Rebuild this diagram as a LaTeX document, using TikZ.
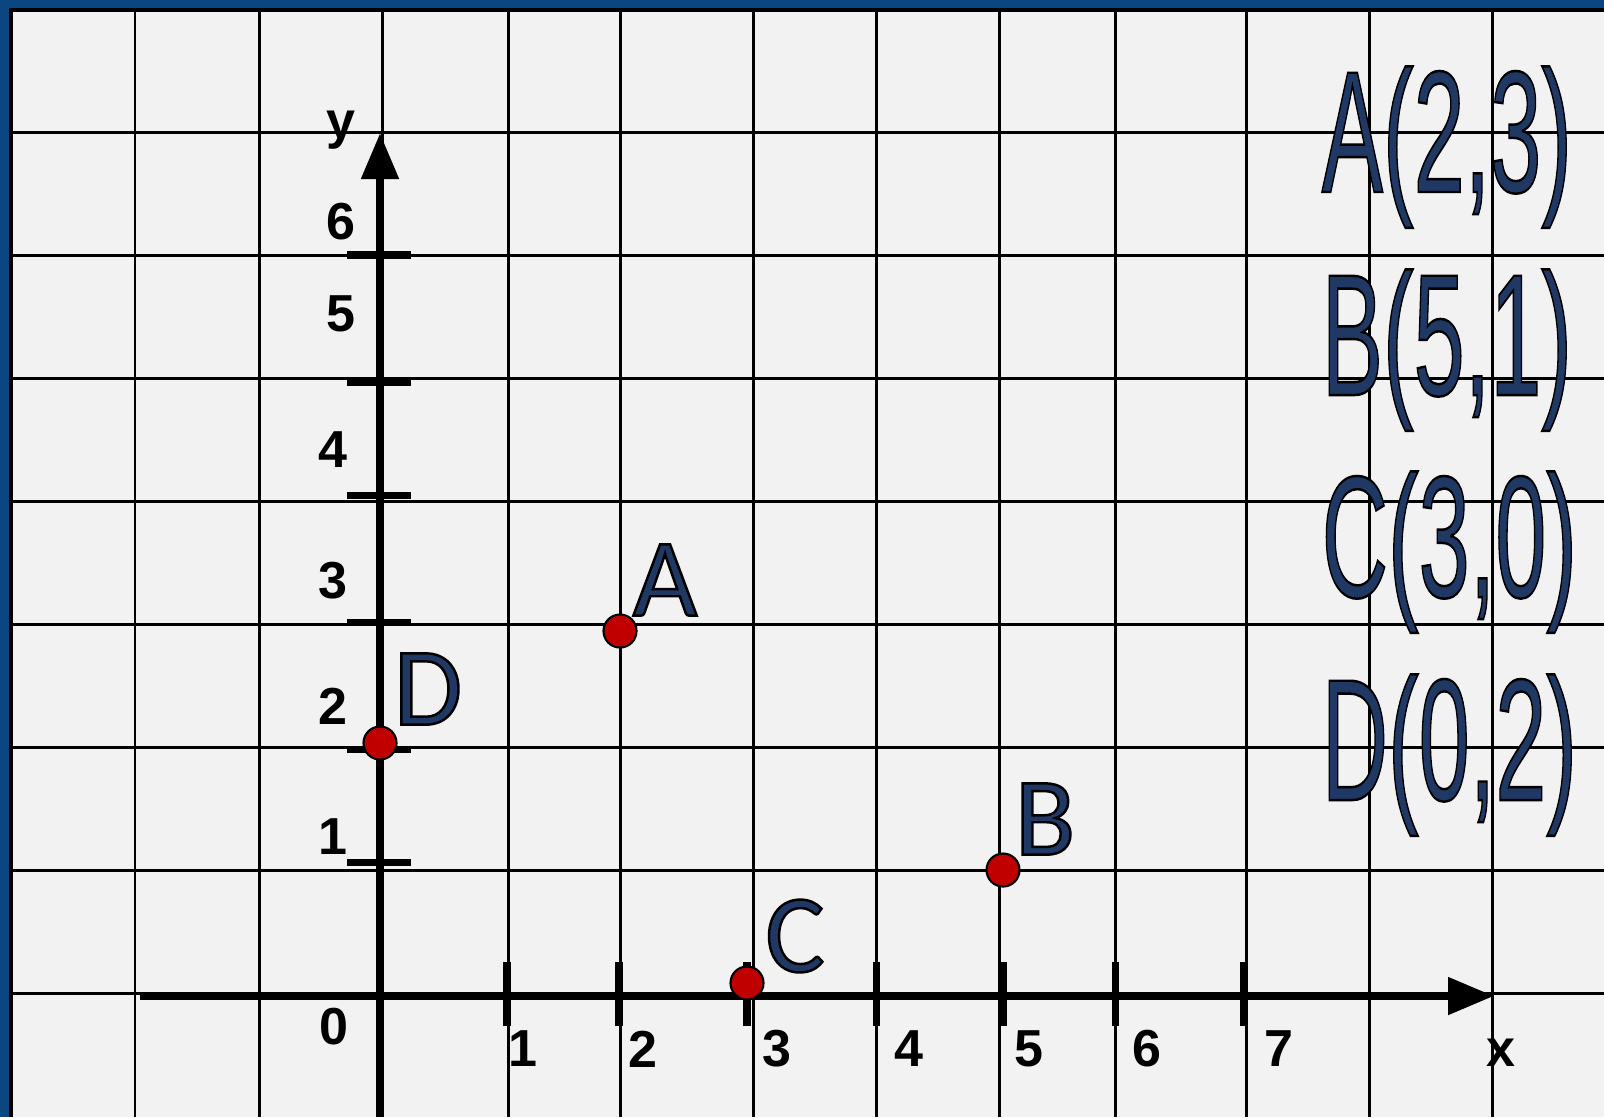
\documentclass[tikz,border=0pt]{standalone}
\usepackage{fontspec}
\setmainfont{Liberation Sans}
\newfontfamily\calibrifont{Carlito}
\usepackage{xcolor}
\usetikzlibrary{arrows.meta}

\definecolor{frameblue}{RGB}{12,70,128}
\definecolor{paper}{RGB}{242,242,242}
\definecolor{navy}{RGB}{31,56,100}
\definecolor{dotred}{RGB}{192,0,0}

% outlined letters (fill + black stroke)
\newcommand{\inked}[1]{\special{pdf:literal direct 2 Tr 0 0 0 RG 0.7 w}#1\special{pdf:literal direct 0 Tr}}

\tikzset{
  gridline/.style={black, line width=0.85pt},
  axisline/.style={black, line width=2.3pt, -{Triangle[length=0.46cm,width=0.36cm]}},
  tickmark/.style={black, line width=2pt},
  numlabel/.style={inner sep=0pt, font=\bfseries\fontsize{14.8}{16}\selectfont},
  pt/.style={circle, draw=black, line width=0.6pt, fill=dotred, minimum size=0.33cm, inner sep=0pt},
  ptlabel/.style={inner sep=0pt, text=navy, font=\calibrifont\fontsize{31.6}{36}\selectfont},
  coordtext/.style={inner sep=0pt, anchor=base west, text=navy, font=\fontsize{49.3}{56}\selectfont}
}

\begin{document}
\begin{tikzpicture}[x=0.01cm,y=-0.01cm]
  \useasboundingbox (0,0) rectangle (1604,1117);
  % frame and squared paper
  \fill[frameblue] (0,0) rectangle (1604,1117);
  \fill[paper] (11,10) rectangle (1604,1117);
  \foreach \gx in {135,259,382,508,620,753,876,999,1115,1246,1369,1492}
    \draw[gridline] (\gx,10) -- (\gx,1117);
  \foreach \gy in {132,255,378,501,624,747,870,993}
    \draw[gridline] (11,\gy) -- (1604,\gy);
  \draw[black, line width=1.2pt] (11,1117) -- (11,10) -- (1604,10);

  % axes
  \coordinate (xtail) at (140,996);
  \coordinate (xtip) at (1494,996);
  \coordinate (ytail) at (380,1117);
  \coordinate (ytip) at (380,133);
  \draw[axisline] (xtail) -- (xtip);
  \draw[axisline] (ytail) -- (ytip);
  \node[numlabel] (xname) at (1501,1053) {x};
  \node[numlabel] (yname) at (341,130) {y};
  \node[numlabel] (origin) at (334,1027) {0};

  % ticks on x
  \foreach \tx/\lx [count=\i] in {507/523,619/643,747/777,876/909,1003/1029,1115/1147,1243/1279}{
    \draw[tickmark] (\tx,962) -- (\tx,1026);
    \node[numlabel] (xnum\i) at (\lx,1049) {\i};
  }
  % ticks on y
  \foreach \ty/\lx/\ly [count=\i] in {862/333/837,749/333/706,622/333/581,495/333/450,382/341/314,255/341/222}{
    \draw[tickmark] (347,\ty) -- (411,\ty);
    \node[numlabel] (ynum\i) at (\lx,\ly) {\i};
  }

  % points
  \node[pt] (pA) at (620,631) {};
  \node[pt] (pB) at (1003,870) {};
  \node[pt] (pC) at (747,983) {};
  \node[pt] (pD) at (380,743) {};
  \node[ptlabel] (lblA) at (665,580) {\inked{A}};
  \node[ptlabel] (lblB) at (1045,819) {\inked{B}};
  \node[ptlabel] (lblC) at (795,936) {\inked{C}};
  \node[ptlabel] (lblD) at (428,689) {\inked{D}};

  % list of coordinates
  \node[coordtext] (cA) at (1321,192) {\scalebox{0.53}[1]{\inked{A(2,3)}}};
  \node[coordtext] (cB) at (1321,395) {\scalebox{0.53}[1]{\inked{B(5,1)}}};
  \node[coordtext] (cC) at (1321,597) {\scalebox{0.53}[1]{\inked{C(3,0)}}};
  \node[coordtext] (cD) at (1321,800) {\scalebox{0.53}[1]{\inked{D(0,2)}}};
\end{tikzpicture}
\end{document}
